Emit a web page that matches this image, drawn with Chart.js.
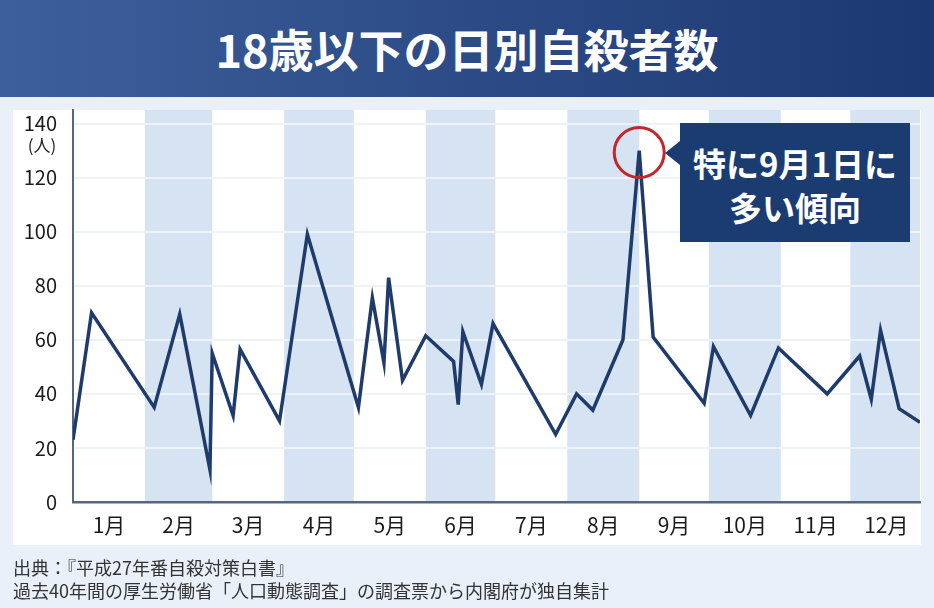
<!DOCTYPE html>
<html lang="ja">
<head>
<meta charset="utf-8">
<script src="https://cdn.jsdelivr.net/npm/chart.js@4.4.1/dist/chart.umd.min.js"></script>
<style>
  html, body { margin:0; padding:0; }
  body { width:934px; height:608px; background:#e9f0fa; position:relative; overflow:hidden;
         font-family:"Noto Sans CJK JP","Noto Sans",sans-serif; }
  #header { position:absolute; left:0; top:0; width:934px; height:97px;
            background:linear-gradient(to right,#3d5f9b,#1c3872); }
  #title { position:absolute; left:0; top:0; width:934px; height:97px; line-height:97px;
           text-align:center; color:#fff; font-weight:700; font-size:45px; }
  #panel { position:absolute; left:13px; top:110px; width:908px; height:435px; background:#fff; }
  #unit { position:absolute; left:22px; top:134px; width:40px; text-align:center; font-size:17px; color:#222; line-height:22px; }
  #note { position:absolute; left:680px; top:123px; width:230px; height:119px; background:#1b3c70;
          color:#fff; font-weight:700; font-size:33px; line-height:44px; text-align:center;
          box-sizing:border-box; padding-top:18px; }
  #note::before { content:""; position:absolute; left:-15px; top:18px; width:0; height:0;
          border-top:12px solid transparent; border-bottom:12px solid transparent; border-right:15px solid #1b3c70; }
  #footer { position:absolute; left:13px; top:556px; font-size:18px; line-height:23px; color:#333; }
  canvas { position:absolute; left:0; top:0; }
</style>
</head>
<body>
<div id="header"></div>
<div id="title">18歳以下の日別自殺者数</div>
<div id="panel"></div>
<canvas id="c" width="934" height="608"></canvas>
<div id="unit">(人)</div>
<div id="note">特に9月1日に<br>多い傾向</div>
<div id="footer">出典：『平成27年番自殺対策白書』<br>過去40年間の厚生労働省「人口動態調査」の調査票から内閣府が独自集計</div>
<script>
// Day of year (1 = Jan 1, leap year) and daily number of suicides (18 and under)
const days   = [1, 9, 36, 47, 60, 61, 70, 73, 90, 102, 124, 130, 135, 137, 143, 153, 165, 167, 169, 177, 182, 209, 218, 225, 238, 245, 251, 273, 277, 293, 305, 326, 340, 345, 349, 357, 366];
const values = [23, 70, 35, 69.5, 12, 55, 32, 56.5, 30, 99, 35, 75.5, 51.5, 83, 45, 61.5, 52, 36, 63, 43.5, 66, 25, 40, 34, 60, 130, 61, 36.5, 57.5, 32, 57, 40, 54, 38, 63.5, 34.5, 29.5];
const monthLabels = ["1月","2月","3月","4月","5月","6月","7月","8月","9月","10月","11月","12月"];
const monthStarts = [1, 32, 61, 92, 122, 153, 183, 214, 245, 275, 306, 336, 367];
const yTicks = [0, 20, 40, 60, 80, 100, 120, 140];

const points = days.map((d, i) => ({ x: d, y: values[i] }));
const monthCenters = monthLabels.map((m, i) => (monthStarts[i] + monthStarts[i + 1]) / 2);

const bandPlugin = {
  id: 'bands',
  beforeDraw(chart) {
    const { ctx, chartArea: a, scales: { x } } = chart;
    ctx.save();
    for (let i = 0; i < monthLabels.length; i++) {
      if (i % 2 === 1) {
        const x0 = Math.max(a.left, x.getPixelForValue(monthStarts[i]));
        const x1 = Math.min(a.right, x.getPixelForValue(monthStarts[i + 1]));
        ctx.fillStyle = '#d6e3f3';
        ctx.fillRect(x0, a.top, x1 - x0, a.bottom - a.top);
      }
    }
    ctx.restore();
  }
};

const circlePlugin = {
  id: 'peakCircle',
  afterDatasetsDraw(chart) {
    const meta = chart.getDatasetMeta(0);
    let mi = 0;
    values.forEach((v, i) => { if (v > values[mi]) mi = i; });
    const p = meta.data[mi];
    const ctx = chart.ctx;
    ctx.save();
    ctx.beginPath();
    ctx.arc(p.x, p.y + 2, 25, 0, Math.PI * 2);
    ctx.strokeStyle = '#c1272d';
    ctx.lineWidth = 3;
    ctx.stroke();
    ctx.restore();
  }
};

new Chart(document.getElementById('c'), {
  type: 'line',
  data: {
    datasets: [{
      data: points,
      borderColor: '#1e3b6c',
      borderWidth: 3.5,
      borderJoinStyle: 'miter',
      pointRadius: 0,
      tension: 0,
      fill: false
    }]
  },
  options: {
    responsive: false,
    animation: false,
    devicePixelRatio: 1,
    layout: { padding: { left: 0, top: 110, right: 14, bottom: 63 } },
    plugins: { legend: { display: false }, tooltip: { enabled: false } },
    scales: {
      x: {
        type: 'linear',
        min: 1,
        max: 366,
        afterFit(s) { s.height = 43; },
        afterBuildTicks(s) { s.ticks = monthCenters.map(v => ({ value: v })); },
        grid: { color: 'rgba(0,0,0,0)', drawTicks: false },
        border: { color: '#56667f', width: 2.5 },
        ticks: {
          autoSkip: false, maxRotation: 0, padding: 10,
          color: '#1a1a1a',
          font: { family: '"Noto Sans CJK JP"', size: 21 },
          callback(v, i) { return monthLabels[i]; }
        }
      },
      y: {
        min: 0,
        max: 145,
        afterFit(s) { s.width = 73; },
        afterBuildTicks(s) { s.ticks = yTicks.map(v => ({ value: v })); },
        grid: { color: '#eef3fa', lineWidth: 2, drawTicks: false },
        border: { color: '#56667f', width: 2 },
        ticks: {
          padding: 16,
          color: '#1a1a1a',
          font: { family: '"Noto Sans CJK JP"', size: 20 }
        }
      }
    }
  },
  plugins: [bandPlugin, circlePlugin]
});
</script>
</body>
</html>
